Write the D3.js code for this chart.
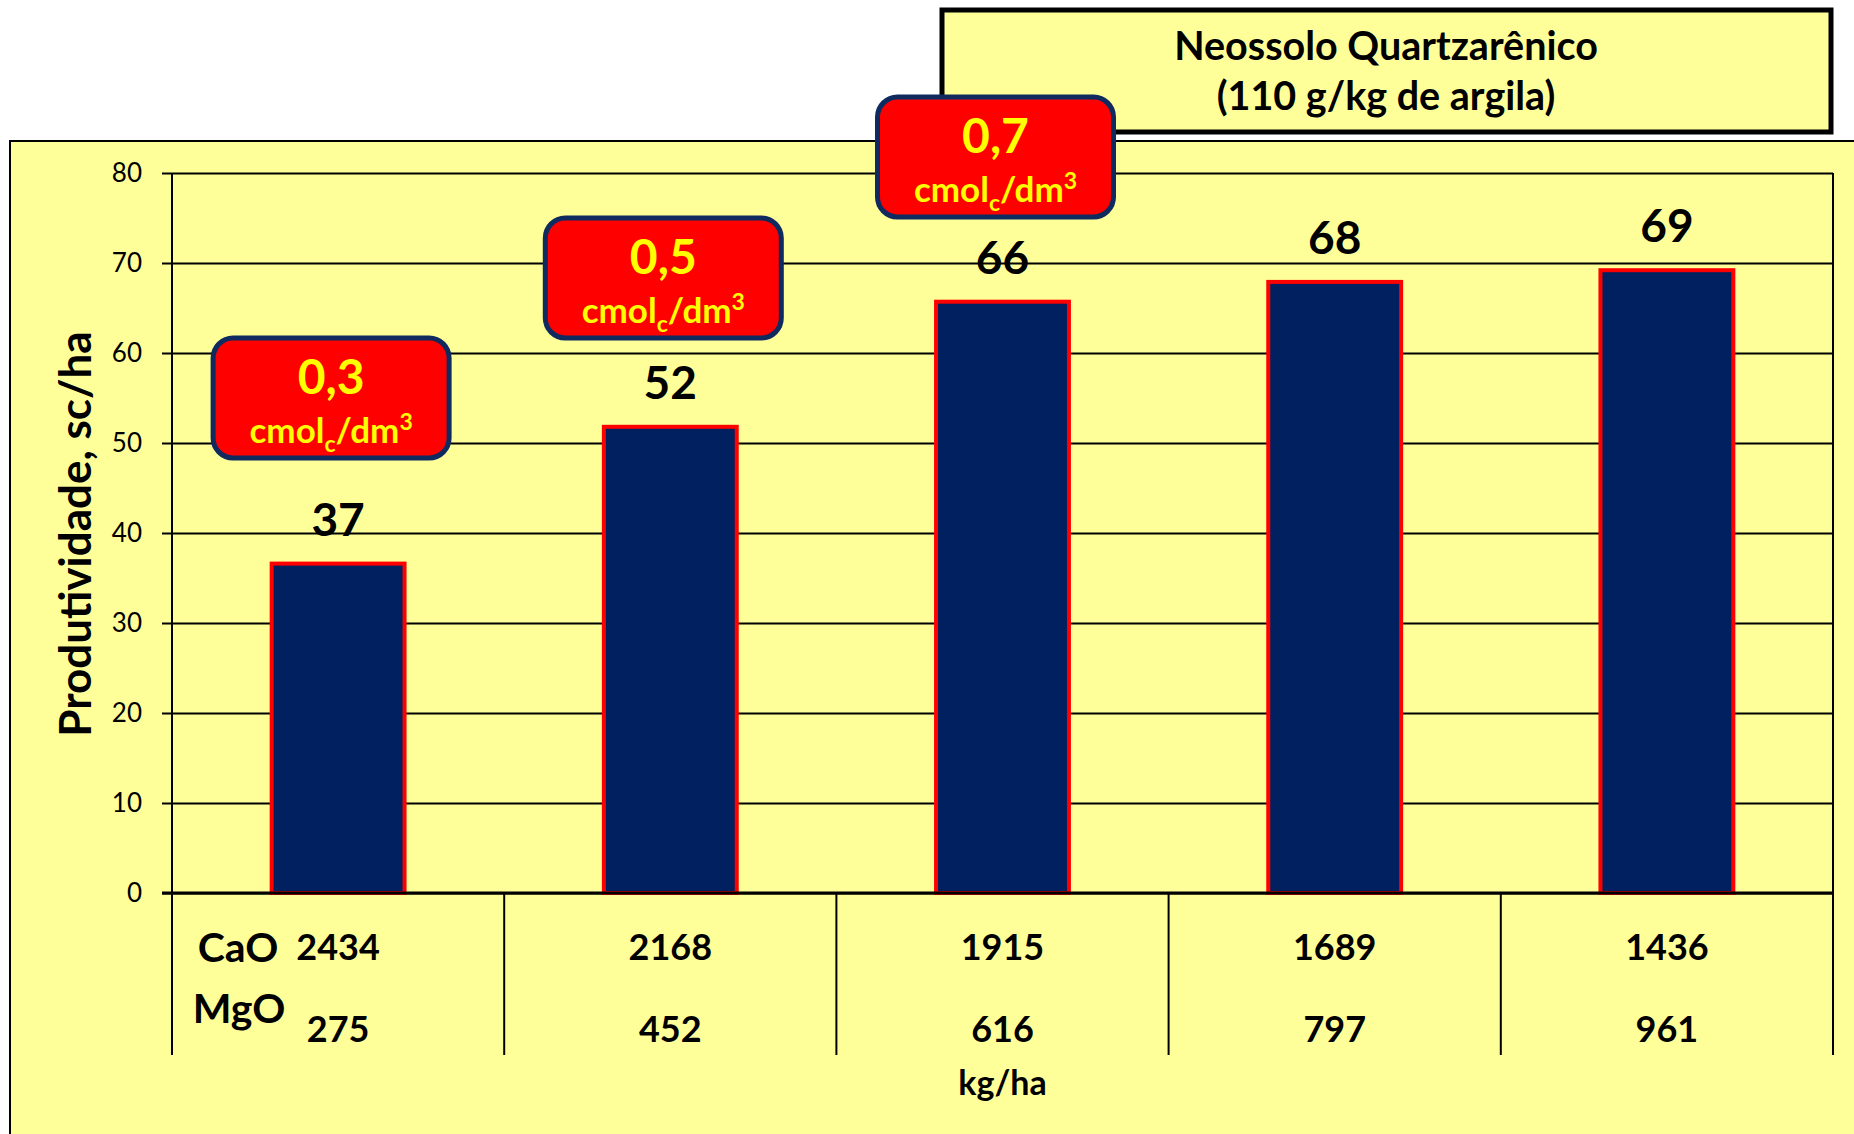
<!DOCTYPE html>
<html>
<head>
<meta charset="utf-8">
<script src="https://cdn.jsdelivr.net/npm/d3@7"></script>
<style>
  body { margin:0; background:#fff; }
  svg  { display:block; font-family: Lato, "Open Sans", sans-serif; }
</style>
</head>
<body>
<div id="chart"></div>
<script>
/*********************************************************
 * DATA
 *********************************************************/
const caoDoses  = [2434, 2168, 1915, 1689, 1436];   // kg/ha
const mgoDoses  = [275, 452, 616, 797, 961];        // kg/ha
const yields    = [36.6, 51.8, 65.7, 67.9, 69.2];   // sc/ha
const yTicks    = [0, 10, 20, 30, 40, 50, 60, 70, 80];
const mgLevels  = ["0,3", "0,5", "0,7"];            // cmolc/dm3 callouts (first 3 bars)
const titleLines = ["Neossolo Quartzarênico", "(110 g/kg de argila)"];

/*********************************************************
 * LAYOUT
 *********************************************************/
const W = 1854, H = 1134;
const plot = { left:172, right:1833, top:173, bottom:893, tableBottom:1055 };
const calloutTop = [336, 216, 95];

const svg = d3.select("#chart").append("svg")
  .attr("width", W).attr("height", H);

const x = d3.scaleBand()
  .domain(d3.range(yields.length))
  .range([plot.left, plot.right])
  .paddingInner(0.6).paddingOuter(0.3);

const y = d3.scaleLinear().domain([0, 80]).range([plot.bottom, plot.top]);

const center = i => x(i) + x.bandwidth() / 2;

/* yellow panel */
svg.append("rect")
  .attr("x", 10).attr("y", 141).attr("width", W).attr("height", H)
  .attr("fill", "#FFFF99").attr("stroke", "#000").attr("stroke-width", 2);

/* gridlines + tick labels */
const axis = svg.append("g")
  .attr("transform", `translate(162,0)`)
  .call(d3.axisLeft(y).tickValues(yTicks)
        .tickSize(-(plot.right - 162)).tickPadding(20));
axis.select(".domain").remove();
axis.selectAll(".tick line").attr("stroke", "#000").attr("stroke-width", 2);
axis.selectAll(".tick text")
  .attr("font-size", 26).attr("fill", "#000")
  .attr("font-family", "Lato, sans-serif");

/* axis + table verticals */
const xEdges = d3.range(yields.length + 1).map(i => plot.left + i * x.step());
svg.append("line")
  .attr("x1", plot.left).attr("x2", plot.left)
  .attr("y1", plot.top).attr("y2", plot.tableBottom)
  .attr("stroke", "#000").attr("stroke-width", 2);
svg.selectAll(".vline").data(xEdges.slice(1)).enter().append("line")
  .attr("class", "vline")
  .attr("x1", d => d).attr("x2", d => d)
  .attr("y1", (d, i) => i === xEdges.length - 2 ? plot.top : plot.bottom)
  .attr("y2", plot.tableBottom)
  .attr("stroke", "#000").attr("stroke-width", 2);

/* bars */
svg.selectAll(".bar").data(yields).enter().append("rect")
  .attr("class", "bar")
  .attr("x", (d, i) => x(i))
  .attr("y", d => y(d))
  .attr("width", x.bandwidth())
  .attr("height", d => y(0) - y(d))
  .attr("fill", "#00205F")
  .attr("stroke", "#FF0000").attr("stroke-width", 4);

/* baseline */
svg.append("line")
  .attr("x1", 162).attr("x2", plot.right)
  .attr("y1", y(0)).attr("y2", y(0))
  .attr("stroke", "#000").attr("stroke-width", 3);

/* value labels */
svg.selectAll(".val").data(yields).enter().append("text")
  .attr("x", (d, i) => center(i))
  .attr("y", d => y(d) - 28)
  .attr("text-anchor", "middle")
  .attr("font-size", 46).attr("font-weight", "bold")
  .text(d => d3.format(".0f")(d));

/* y axis title */
svg.append("text")
  .attr("transform", "translate(91,534) rotate(-90)")
  .attr("text-anchor", "middle")
  .attr("font-size", 44).attr("font-weight", "bold")
  .text("Produtividade, sc/ha");

/* dose table under the bars */
svg.selectAll(".cao").data(caoDoses).enter().append("text")
  .attr("x", (d, i) => center(i)).attr("y", 960)
  .attr("text-anchor", "middle")
  .attr("font-size", 36).attr("font-weight", "bold")
  .text(d => d);
svg.selectAll(".mgo").data(mgoDoses).enter().append("text")
  .attr("x", (d, i) => center(i)).attr("y", 1042)
  .attr("text-anchor", "middle")
  .attr("font-size", 36).attr("font-weight", "bold")
  .text(d => d);
svg.append("text").attr("x", 238).attr("y", 962)
  .attr("text-anchor", "middle")
  .attr("font-size", 41).attr("font-weight", "bold").text("CaO");
svg.append("text").attr("x", 239).attr("y", 1023)
  .attr("text-anchor", "middle")
  .attr("font-size", 41).attr("font-weight", "bold").text("MgO");
svg.append("text").attr("x", (plot.left + plot.right) / 2).attr("y", 1095)
  .attr("text-anchor", "middle")
  .attr("font-size", 34).attr("font-weight", "bold").text("kg/ha");

/* title box */
svg.append("rect")
  .attr("x", 942).attr("y", 10).attr("width", 889).attr("height", 122)
  .attr("fill", "#FFFF99").attr("stroke", "#000").attr("stroke-width", 5);
svg.selectAll(".title").data(titleLines).enter().append("text")
  .attr("x", 1386).attr("y", (d, i) => 60 + i * 50)
  .attr("text-anchor", "middle")
  .attr("font-size", 39.5).attr("font-weight", "bold")
  .text(d => d);

/* red callouts */
const co = svg.selectAll(".callout").data(mgLevels).enter().append("g")
  .attr("transform", (d, i) => `translate(${center(i) - 7},${calloutTop[i]})`);
co.append("rect")
  .attr("x", -118).attr("y", 2).attr("width", 236).attr("height", 120)
  .attr("rx", 20).attr("ry", 20)
  .attr("fill", "#FF0000").attr("stroke", "#0F2A5E").attr("stroke-width", 5);
co.append("text")
  .attr("y", 58).attr("text-anchor", "middle")
  .attr("font-size", 48).attr("font-weight", "bold").attr("fill", "#FFFF00")
  .text(d => d);
const unit = co.append("text")
  .attr("y", 107).attr("text-anchor", "middle")
  .attr("font-size", 35).attr("font-weight", "bold").attr("fill", "#FFFF00");
unit.append("tspan").text("cmol");
unit.append("tspan").attr("font-size", 23).attr("dy", 9).text("c");
unit.append("tspan").attr("dy", -9).text("/dm");
unit.append("tspan").attr("font-size", 23).attr("dy", -13).text("3");
</script>
</body>
</html>
